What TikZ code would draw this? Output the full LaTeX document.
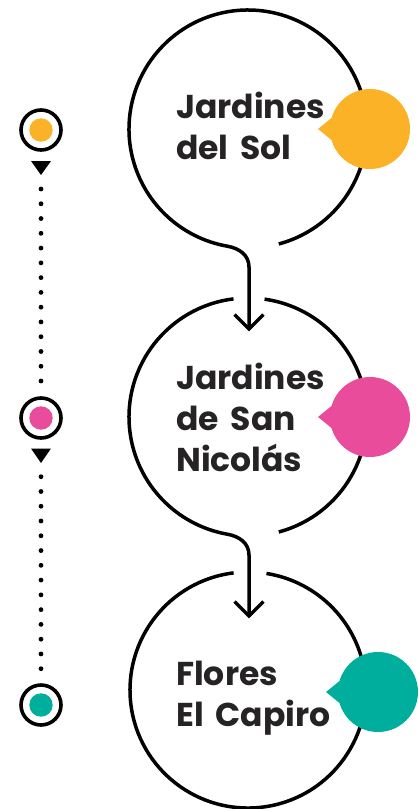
\documentclass[tikz,border=0pt]{standalone}
\usepackage{fontspec}
\setmainfont{Poppins}[WordSpace=1.7]
\usetikzlibrary{calc}
\definecolor{cyel}{HTML}{FBB226}
\definecolor{cpink}{HTML}{E84C9A}
\definecolor{cteal}{HTML}{00AE9D}
\definecolor{ctext}{HTML}{262324}
\begin{document}
\begin{tikzpicture}[x=1pt,y=1pt,
  bigcirc/.style={circle, minimum size=#1, inner sep=0pt, outer sep=0pt},
  ring/.style={circle, draw=black, line width=3.6pt, minimum size=40pt, inner sep=0pt, outer sep=0pt},
  bigline/.style={draw=black, line width=3.5pt},
  tipline/.style={draw=black, line width=3.5pt, line join=miter},
  bubble/.style={circle, fill=#1, minimum size=80pt, inner sep=0pt, outer sep=0pt},
  dotline/.style={draw=black, line width=4.8pt, line cap=round, dash pattern=on 0pt off 14.77pt},
  lbl/.style={font=\fontsize{33}{41}\selectfont\bfseries, text=ctext, align=left, inner sep=0pt, anchor=base west}]
\useasboundingbox (0,0) rectangle (419,-809);

% big circles
\node[bigcirc=238pt] (c1) at (248,-129) {};
\node[bigcirc=238pt] (c2) at (248,-417) {};
\node[bigcirc=236pt] (c3) at (248,-690) {};

% circle 1 with connector to circle 2
\draw[bigline] (c1.-75) arc[start angle=-75, end angle=260, radius=119]
  .. controls ($(c1.260)+(350:12)$) and ($(c1.south)+(1,-7)$) .. ($(c1.south)+(1,-19)$)
  -- ($(c2.north)+(1,-31)$) coordinate (t1);
\draw[tipline] ($(t1)+(-14.5,14.5)$) -- (t1) -- ($(t1)+(14.5,14.5)$);

% circle 2 with connector to circle 3
\draw[bigline] (c2.-75) arc[start angle=-75, end angle=82, radius=119];
\draw[bigline] (c2.97) arc[start angle=97, end angle=260, radius=119]
  .. controls ($(c2.260)+(350:12)$) and ($(c2.south)+(1,-7)$) .. ($(c2.south)+(1,-19)$)
  -- ($(c3.north)+(1,-44)$) coordinate (t2);
\draw[tipline] ($(t2)+(-14.5,14.5)$) -- (t2) -- ($(t2)+(14.5,14.5)$);

% circle 3
\draw[bigline] (c3.97) arc[start angle=97, end angle=441, radius=118];

% bubbles
\node[bubble=cyel] (b1) at (370,-129) {};
\fill[cyel] (b1.164) -- ($(b1.center)+(-52,0)$) -- (b1.196) -- (b1.center) -- cycle;
\node[bubble=cpink] (b2) at (370,-417) {};
\fill[cpink] (b2.164) -- ($(b2.center)+(-52,0)$) -- (b2.196) -- (b2.center) -- cycle;
\node[bubble=cteal] (b3) at (378,-692) {};
\fill[cteal] (b3.164) -- ($(b3.center)+(-52,0)$) -- (b3.196) -- (b3.center) -- cycle;

% labels (base anchor = last line)
\node[lbl] (l1) at (176,-159.5) {Jardines\\del Sol};
\node[lbl] (l2) at (176,-471.5) {Jardines\\de San\\Nicolás};
\node[lbl] (l3) at (176,-726.7) {Flores\\El Capiro};

% timeline
\node[ring] (r1) at (41,-130) {};
\fill[cyel] (r1.center) circle[radius=11.7];
\node[ring] (r2) at (41,-418) {};
\fill[cpink] (r2.center) circle[radius=11.7];
\node[ring] (r3) at (41,-705) {};
\fill[cteal] (r3.center) circle[radius=11.7];

\fill[black] ($(r1.center)+(-10,-31)$) -- ($(r1.center)+(10,-31)$) -- ($(r1.center)+(0,-45)$) -- cycle;
\draw[dotline] ($(r1.center)+(0,-59)$) -- ($(r2.center)+(0,36)$);
\fill[black] ($(r2.center)+(-10,-30.5)$) -- ($(r2.center)+(10,-30.5)$) -- ($(r2.center)+(0,-45)$) -- cycle;
\draw[dotline] ($(r2.center)+(0,-58.7)$) -- ($(r3.center)+(0,35)$);
\end{tikzpicture}
\end{document}
